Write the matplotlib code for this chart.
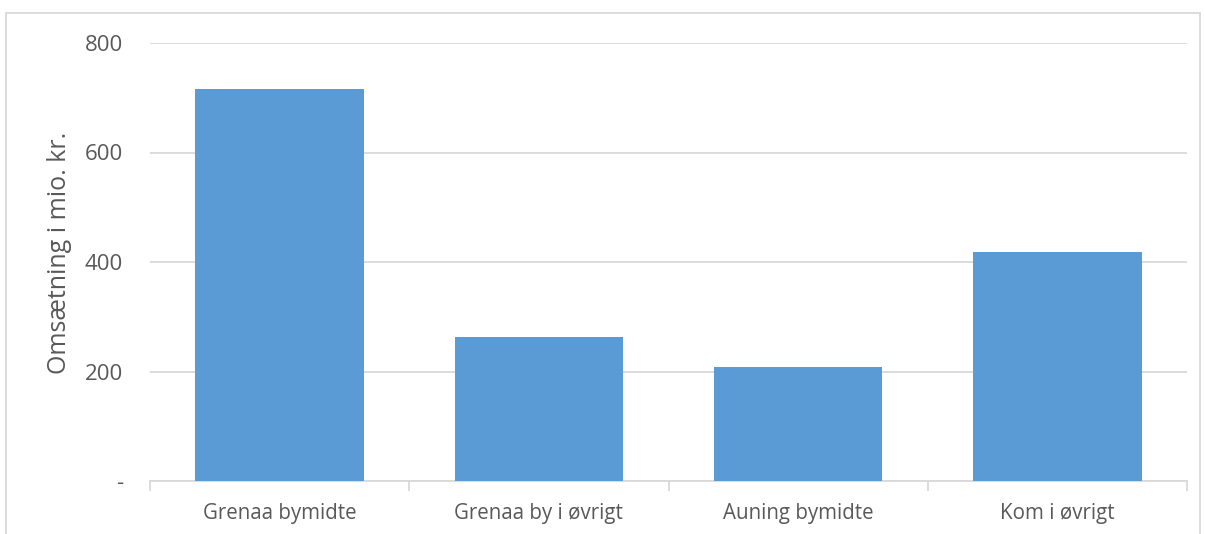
import matplotlib.pyplot as plt
from matplotlib.patches import Rectangle

# data
categories = ["Grenaa bymidte", "Grenaa by i øvrigt", "Auning bymidte", "Kom i øvrigt"]
values = [716, 263, 208, 418]
yticks = [0, 200, 400, 600, 800]
ytick_labels = ["-", "200", "400", "600", "800"]

W, H = 1205, 534
plt.rcParams["font.family"] = ["Open Sans", "DejaVu Sans"]
fig = plt.figure(figsize=(W / 100, H / 100), dpi=100)

# chart border (light grey frame, bottom edge cut off)
fig.patches.append(Rectangle((5.5 / W, -0.1), (1200 - 5.5) / W, 1.1 - 13.5 / H,
                             transform=fig.transFigure, fill=False,
                             edgecolor="#d9d9d9", linewidth=1.3))

ax = fig.add_axes([150 / W, 1 - 481 / H, (1187 - 150) / W, (481 - 43) / H])
x = range(len(categories))
ax.bar(x, values, width=0.65, color="#5b9bd5", zorder=3)

ax.set_xlim(-0.5, len(categories) - 0.5)
ax.set_ylim(0, 800)
ax.set_yticks(yticks)
ax.set_yticklabels(ytick_labels)
ax.set_xticks(list(x))
ax.set_xticklabels(categories)
ax.set_xticks([i - 0.5 for i in range(len(categories) + 1)], minor=True)

for s in ["top", "right", "left"]:
    ax.spines[s].set_visible(False)
ax.spines["bottom"].set_color("#d9d9d9")
ax.spines["bottom"].set_linewidth(1.3)
ax.grid(axis="y", color="#d9d9d9", linewidth=1.3, zorder=0)

ax.tick_params(axis="y", length=0, pad=19.5, labelsize=16, labelcolor="#595959")
ax.tick_params(axis="x", which="major", length=0, pad=16, labelsize=14.8, labelcolor="#595959")
ax.tick_params(axis="x", which="minor", length=7, width=1.3, color="#d9d9d9")

ax.set_ylabel("Omsætning i mio. kr.", fontsize=18, color="#595959", labelpad=9)
ax.yaxis.label.set_y(0.52)

fig.savefig("out.png", dpi=100)
